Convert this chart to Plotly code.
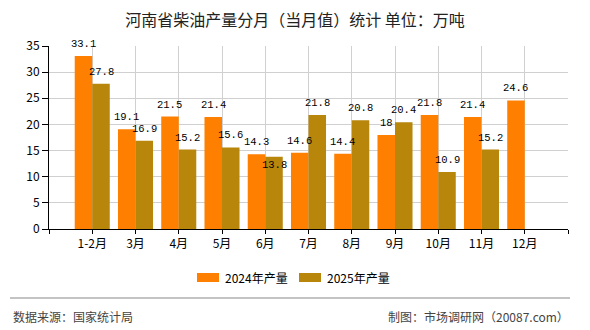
import plotly.graph_objects as go

categories = ["1-2月", "3月", "4月", "5月", "6月", "7月", "8月", "9月", "10月", "11月", "12月"]
values_2024 = [33.1, 19.1, 21.5, 21.4, 14.3, 14.6, 14.4, 18, 21.8, 21.4, 24.6]
values_2025 = [27.8, 16.9, 15.2, 15.6, 13.8, 21.8, 20.8, 20.4, 10.9, 15.2, None]
series_names = ["2024年产量", "2025年产量"]
series_colors = ["#FF8000", "#B8860B"]
y_ticks = [0, 5, 10, 15, 20, 25, 30, 35]

W, H = 590, 330
ML, MR, MT, MB = 49, 22, 46, 101
plot_w = W - ML - MR
plot_h = H - MT - MB
BARGAP = 0.19

x_pos = list(range(len(categories)))
label_font = dict(family="Liberation Mono, DejaVu Sans Mono, monospace", size=10.5, color="#000000")


def fmt(v):
    return "%g" % v


fig = go.Figure()
for name, vals, col in zip(series_names, [values_2024, values_2025], series_colors):
    fig.add_trace(go.Bar(
        x=x_pos, y=vals, name=name,
        marker=dict(color=col, line=dict(width=0)),
        showlegend=False, hoverinfo="x+y",
    ))

# data labels drawn on top of all bars
px_per_unit = plot_w / (len(categories) + 1)
bar_w_px = px_per_unit * (1 - BARGAP) / 2
for s_idx, vals in enumerate([values_2024, values_2025]):
    other = [values_2025, values_2024][s_idx]
    shift = (-0.5 if s_idx == 0 else 0.5) * bar_w_px
    for i, v in enumerate(vals):
        if v is None:
            continue
        inside = False
        o = other[i]
        if s_idx == 1 and o is not None and v < o and (o - v) < 1:
            inside = True  # avoid colliding with neighbouring label
        fig.add_annotation(
            x=i, y=v, xref="x", yref="y", text=fmt(v), showarrow=False,
            xshift=shift, yshift=(-8 if inside else 12),
            xanchor="center", yanchor="middle", font=label_font,
        )

tickvals = list(range(-1, len(categories) + 1))
ticktext = [""] + categories + [""]

fig.update_layout(
    width=W, height=H,
    margin=dict(l=ML, r=MR, t=MT, b=MB),
    paper_bgcolor="white", plot_bgcolor="white",
    barmode="group", bargap=BARGAP, bargroupgap=0,
    font=dict(family="Noto Sans CJK SC, sans-serif", size=12, color="#000000"),
    title=dict(text="河南省柴油产量分月（当月值）统计 单位：万吨",
               x=0.5, xref="container", xanchor="center",
               y=1 - 20 / H, yref="container", yanchor="middle",
               font=dict(size=16, color="#222222")),
    xaxis=dict(
        range=[-1, len(categories)], tickmode="array", tickvals=tickvals, ticktext=ticktext,
        showgrid=True, gridcolor="#D0D0D0", gridwidth=1, zeroline=False,
        showline=True, linecolor="#000000", linewidth=1,
        ticks="outside", ticklen=4, tickcolor="#000000",
        tickfont=dict(size=12, color="#000000"),
    ),
    yaxis=dict(
        range=[0, 35], tickmode="array", tickvals=y_ticks,
        showgrid=True, gridcolor="#D0D0D0", gridwidth=1, zeroline=False,
        showline=True, linecolor="#000000", linewidth=1,
        ticks="outside", ticklen=6, tickcolor="#000000",
        tickfont=dict(size=12, color="#000000"),
    ),
    showlegend=False,
)


def px_x(px):
    return (px - ML) / plot_w


def px_y(py):
    return (H - MB - py) / plot_h


# custom legend (wide colour keys like the reference)
legend_items = [(197, 223), (299, 325)]
for (rx, tx), name, col in zip(legend_items, series_names, series_colors):
    fig.add_shape(type="rect", xref="paper", yref="paper",
                  x0=px_x(rx), x1=px_x(rx + 22), y0=px_y(282), y1=px_y(273),
                  fillcolor=col, line=dict(width=0))
    fig.add_annotation(text=name, xref="paper", yref="paper",
                       x=px_x(tx), y=px_y(277.5), xanchor="left", yanchor="middle",
                       showarrow=False, font=dict(size=12, color="#000000"))

fig.add_shape(type="line", xref="paper", yref="paper",
              x0=px_x(10), x1=px_x(570), y0=px_y(298), y1=px_y(298),
              line=dict(color="#888888", width=1))
fig.add_annotation(text="数据来源：国家统计局", xref="paper", yref="paper",
                   x=px_x(11), y=px_y(316), xanchor="left", yanchor="middle",
                   showarrow=False, font=dict(size=12, color="#444444"))
fig.add_annotation(text="制图：市场调研网（20087.com）", xref="paper", yref="paper",
                   x=px_x(571), y=px_y(316), xanchor="right", yanchor="middle",
                   showarrow=False, font=dict(size=12, color="#444444"))

fig.write_html("out.html")
